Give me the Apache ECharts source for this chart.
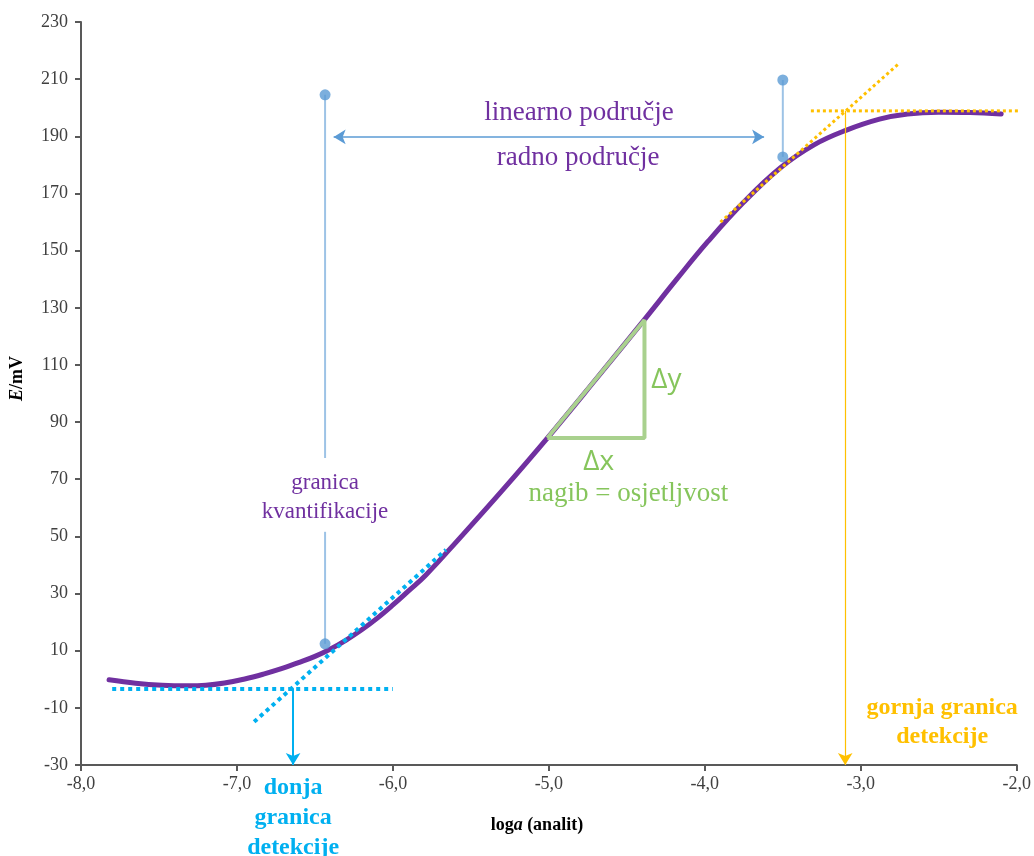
<!DOCTYPE html>
<html><head><meta charset="utf-8">
<script src="https://cdn.jsdelivr.net/npm/echarts@6/dist/echarts.min.js"></script>
<style>html,body{margin:0;padding:0;background:#fff}#c{width:1034px;height:856px}</style>
</head><body><div id="c"></div>
<script>
// ---- data ----
const curveX = [-7.82,-7.65,-7.48,-7.32,-7.2,-7.08,-6.95,-6.83,-6.715,-6.6,-6.5,-6.4,-6.3,-6.2,-6.1,-6.0,-5.9,-5.79,-5.57,-5.3,-5.01,-4.7,-4.39,-4.18,-3.98,-3.75,-3.515,-3.3,-3.1,-2.88,-2.7,-2.5,-2.3,-2.1];
const curveY = [-0.2,-1.4,-2.1,-2.3,-2.1,-1.3,0.1,1.8,3.7,5.9,8.0,10.6,13.7,17.3,21.4,26.0,30.9,36.4,49.5,66.0,84.4,104.9,125.7,140.0,153.2,167.0,179.0,187.0,192.0,196.0,197.8,198.4,198.3,197.8];
const lowerBaseline = [[-7.80,-3.4],[-6.0,-3.4]];
const lowerTangent = [[-6.89,-14.9],[-5.66,45.3]];
const lowerLimit = [[-6.64,-3.4],[-6.64,-30]];
const upperBaseline = [[-3.32,198.9],[-1.9,198.9]];
const upperTangent = [[-3.90,160.0],[-2.75,215.7]];
const upperLimit = [[-3.10,198.9],[-3.10,-30]];
const quantTop = [[-6.435,204.5],[-6.435,77.4]];
const quantBottom = [[-6.435,51.6],[-6.435,12.4]];
const rangeBar = [[-3.5,209.7],[-3.5,182.8]];
const rangeDots = [[-6.435,204.5],[-6.435,12.4],[-3.5,209.7],[-3.5,182.8]];
const rangeArrow = [[-6.38,189.8],[-3.62,189.8]];
const slopeTriangle = [[-5.01,84.4],[-4.387,84.4],[-4.387,125.7],[-5.01,84.4]];
const xTickValues = [-8,-7,-6,-5,-4,-3,-2];
const yTickValues = [-30,-10,10,30,50,70,90,110,130,150,170,190,210,230];
const labels = [
  {x:-4.807, y:198.2, text:'linearno područje', kind:'purpleBig'},
  {x:-4.813, y:182.4, text:'radno područje', kind:'purpleBig'},
  {x:-6.435, y:63.6, text:'granica\nkvantifikacije', kind:'purple'},
  {x:-4.247, y:104.7, text:'Δy', kind:'greenSans'},
  {x:-4.68, y:76.0, text:'Δx', kind:'greenSans'},
  {x:-4.49, y:64.8, text:'nagib = osjetljvost', kind:'green'},
  {x:-6.64, y:-48.5, text:'donja\ngranica\ndetekcije', kind:'cyan'},
  {x:-2.478, y:-14.9, text:'gornja granica\ndetekcije', kind:'orange'}
];

// ---- styles ----
const SERIF = '"Liberation Serif","DejaVu Serif",serif';
const PURPLE = '#7030a0', CYAN = '#00b0f0', ORANGE = '#ffc000', BLUE = '#5b9bd5', LBLUE = '#9dc3e6', GREEN = '#a9d18e', GTEXT = '#86c55c';
const labelStyles = {
  purpleBig: {fontFamily:SERIF, fontSize:27, fill:'#7030a0'},
  purple: {fontFamily:SERIF, fontSize:23, fill:'#7030a0', lineHeight:29},
  greenSans: {fontFamily:'"Open Sans",sans-serif', fontSize:28, fill:GTEXT},
  green: {fontFamily:SERIF, fontSize:27, fill:GTEXT},
  cyan: {fontFamily:SERIF, fontSize:24, fontWeight:'bold', fill:CYAN, lineHeight:30},
  orange: {fontFamily:SERIF, fontSize:24, fontWeight:'bold', fill:ORANGE, lineHeight:29}
};

function seg(data, color, width, dash, z) {
  return {type:'line', data:data, symbol:'none', silent:true, clip:false, z:z||3,
    lineStyle:{color:color, width:width, type:dash||'solid', cap:'butt'}};
}
function arrow(pts, color, width, both) {
  return {type:'line', data:[], symbol:'none', silent:true,
    markLine:{silent:true, animation:false, symbol:[both?'arrow':'none','arrow'], symbolSize:[11,12],
      label:{show:false}, lineStyle:{color:color, width:width, type:'solid'},
      data:[[{coord:pts[0]},{coord:pts[1]}]]}};
}

const chart = echarts.init(document.getElementById('c'), null, {renderer:'canvas'});
const axisLabelStyle = {fontFamily:SERIF, fontSize:18, color:'#404040'};
chart.setOption({
  animation:false,
  backgroundColor:'#fff',
  grid:{left:75, right:16, top:22, bottom:91, containLabel:false},
  xAxis:{type:'value', min:-8, max:-2, interval:1,
    axisLine:{onZero:false, lineStyle:{color:'#595959', width:2}},
    axisTick:{show:true, length:6, lineStyle:{color:'#595959', width:2}},
    splitLine:{show:false},
    axisLabel:{...axisLabelStyle, margin:10, formatter:v => xTickValues.includes(v) ? v.toFixed(1).replace('.',',') : ''},
    name:'{b|log}{bi|a}{b| (analit)}', nameLocation:'middle', nameGap:51,
    nameTextStyle:{padding:[0,24,0,0], rich:{b:{fontFamily:SERIF,fontSize:18,fontWeight:'bold',color:'#000'}, bi:{fontFamily:SERIF,fontSize:18,fontWeight:'bold',fontStyle:'italic',color:'#000'}}}
  },
  yAxis:{type:'value', min:-30, max:230, interval:20,
    axisLine:{show:true, onZero:false, lineStyle:{color:'#595959', width:2}},
    axisTick:{show:true, length:6, lineStyle:{color:'#595959', width:2}},
    splitLine:{show:false},
    axisLabel:{...axisLabelStyle, margin:13, formatter:v => yTickValues.includes(v) ? String(v) : ''},
    name:'{bi|E}{b|/mV}', nameLocation:'middle', nameGap:55,
    nameTextStyle:{padding:[0,0,0,30], rich:{b:{fontFamily:SERIF,fontSize:18,fontWeight:'bold',color:'#000'}, bi:{fontFamily:SERIF,fontSize:18,fontWeight:'bold',fontStyle:'italic',color:'#000'}}}
  },
  series:[
    // calibration curve
    {type:'line', data:curveX.map((x,i)=>[x,curveY[i]]), smooth:0.4, symbol:'none', silent:true, z:2,
      lineStyle:{color:PURPLE, width:5, cap:'round'}},
    // slope triangle
    seg(slopeTriangle, GREEN, 4, 'solid', 4),
    // lower detection limit construction
    seg(lowerBaseline, CYAN, 4, [4,4], 5),
    seg(lowerTangent, CYAN, 4, [4,4], 5),
    arrow(lowerLimit, CYAN, 2, false),
    // upper detection limit construction
    seg(upperBaseline, ORANGE, 3, [3,3], 5),
    seg(upperTangent, ORANGE, 3, [3,3], 5),
    arrow(upperLimit, ORANGE, 1.2, false),
    // quantification / range markers
    seg(quantTop, LBLUE, 2, 'solid', 3),
    seg(quantBottom, LBLUE, 2, 'solid', 3),
    seg(rangeBar, LBLUE, 2, 'solid', 3),
    {type:'scatter', data:rangeDots, symbol:'circle', symbolSize:11, silent:true, z:6, itemStyle:{color:BLUE}},
    arrow(rangeArrow, BLUE, 1.5, true)
  ]
});
// text annotations anchored at data coordinates
chart.setOption({
  graphic: labels.map(l => {
    const p = chart.convertToPixel({gridIndex:0}, [l.x, l.y]);
    return {type:'text', x:p[0], y:p[1], silent:true, z:100,
      style:{text:l.text, align:'center', verticalAlign:'middle', ...labelStyles[l.kind]}};
  })
});
</script></body></html>
